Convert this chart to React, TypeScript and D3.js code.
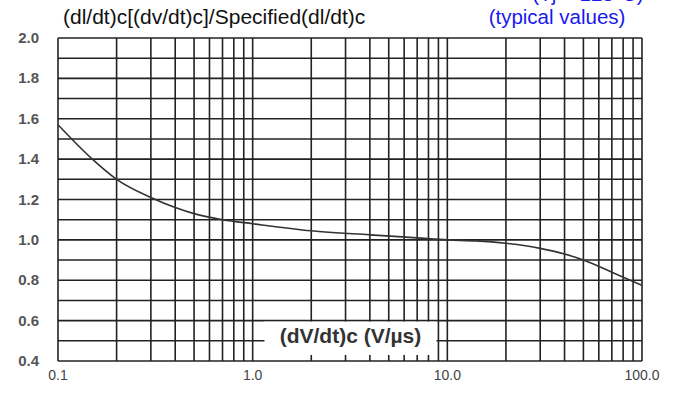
import React from "react";
import * as d3 from "d3";

// curve
const dvdt = [0.1, 0.15, 0.2, 0.3, 0.4, 0.5, 0.7, 1, 2, 4, 7, 10, 14, 20, 30, 40, 50, 70, 100];
const ratio = [1.57, 1.4, 1.3, 1.21, 1.16, 1.13, 1.1, 1.08, 1.045, 1.025, 1.01, 1.0, 0.995, 0.983, 0.958, 0.93, 0.9, 0.84, 0.775];

const xTicks = [0.1, 1, 10, 100];
const xTickLabels = ["0.1", "1.0", "10.0", "100.0"];
const yTicks = [0.4, 0.6, 0.8, 1.0, 1.2, 1.4, 1.6, 1.8, 2.0];
const yTickLabels = ["0.4", "0.6", "0.8", "1.0", "1.2", "1.4", "1.6", "1.8", "2.0"];

const width = 680;
const height = 396;
const margin = { top: 38, right: 38, bottom: 35, left: 58 };
const font = "Liberation Sans, Arial, sans-serif";

function Chart() {
  const ref = React.useRef<SVGSVGElement>(null);

  React.useEffect(() => {
    const svg = d3.select(ref.current);
    svg.selectAll("*").remove();

    const x = d3
      .scaleLog()
      .domain([0.1, 100])
      .range([margin.left, width - margin.right]);
    const y = d3
      .scaleLinear()
      .domain([0.4, 2.0])
      .range([height - margin.bottom, margin.top]);

    const grid = svg.append("g").attr("stroke", "#222").attr("stroke-width", 1.6);

    // horizontal lines every 0.1
    grid
      .selectAll("line.h")
      .data(d3.range(0.4, 2.001, 0.1))
      .join("line")
      .attr("x1", margin.left)
      .attr("x2", width - margin.right)
      .attr("y1", (d) => y(d))
      .attr("y2", (d) => y(d));

    // vertical lines at 1..9 per decade
    grid
      .selectAll("line.v")
      .data(x.ticks())
      .join("line")
      .attr("x1", (d) => x(d))
      .attr("x2", (d) => x(d))
      .attr("y1", margin.top)
      .attr("y2", height - margin.bottom);

    // white box behind the x axis title
    const bx0 = x(1.15);
    const bx1 = x(8.8);
    svg
      .append("rect")
      .attr("x", bx0)
      .attr("y", y(0.6) + 1)
      .attr("width", bx1 - bx0)
      .attr("height", y(0.43) - y(0.6) - 1)
      .attr("fill", "#fff");

    svg
      .append("text")
      .attr("x", (bx0 + bx1) / 2)
      .attr("y", 343)
      .attr("text-anchor", "middle")
      .attr("font-family", font)
      .attr("font-weight", "bold")
      .attr("font-size", 21)
      .attr("fill", "#333")
      .text("(dV/dt)c (V/µs)");

    const line = d3
      .line<number>()
      .x((d, i) => x(dvdt[i]))
      .y((d) => y(d))
      .curve(d3.curveMonotoneX);

    svg
      .append("path")
      .datum(ratio)
      .attr("fill", "none")
      .attr("stroke", "#333")
      .attr("stroke-width", 1.6)
      .attr("d", line);

    // y tick labels
    svg
      .append("g")
      .selectAll("text")
      .data(yTicks)
      .join("text")
      .attr("x", 39)
      .attr("y", (d) => y(d) + 5)
      .attr("text-anchor", "end")
      .attr("font-family", font)
      .attr("font-weight", "bold")
      .attr("font-size", 15)
      .attr("fill", "#555")
      .text((d, i) => yTickLabels[i]);

    // x tick labels
    svg
      .append("g")
      .selectAll("text")
      .data(xTicks)
      .join("text")
      .attr("x", (d) => x(d))
      .attr("y", 380)
      .attr("text-anchor", "middle")
      .attr("font-family", font)
      .attr("font-size", 14)
      .attr("fill", "#444")
      .text((d, i) => xTickLabels[i]);

    svg
      .append("text")
      .attr("x", 63)
      .attr("y", 24)
      .attr("font-family", font)
      .attr("font-size", 21)
      .attr("fill", "#111")
      .text("(dl/dt)c[(dv/dt)c]/Specified(dl/dt)c");

    svg
      .append("text")
      .attr("x", 557)
      .attr("y", 24)
      .attr("text-anchor", "middle")
      .attr("font-family", font)
      .attr("font-size", 20.5)
      .attr("fill", "#1a1aee")
      .text("(typical values)");

    // upper line, cut off by the top edge as in the source
    svg
      .append("text")
      .attr("x", 588)
      .attr("y", 1)
      .attr("text-anchor", "middle")
      .attr("font-family", font)
      .attr("font-size", 20.5)
      .attr("fill", "#1a1aee")
      .text("(Tj = 125°C)");
  }, []);

  return (
    <svg
      ref={ref}
      width={width}
      height={height}
      style={{ position: "absolute", left: 0, top: 0, background: "#fff" }}
    />
  );
}

export default function App() {
  return <Chart />;
}
